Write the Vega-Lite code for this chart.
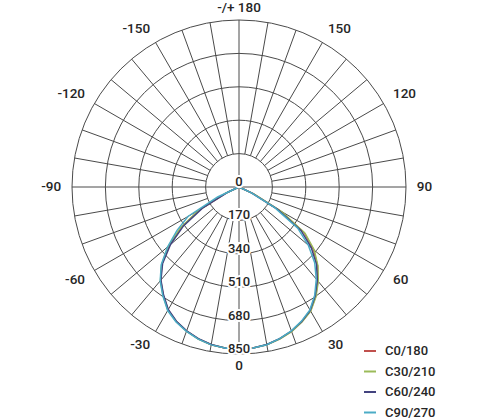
{
  "$schema": "https://vega.github.io/schema/vega-lite/v6.json",
  "width": 334,
  "height": 334,
  "autosize": {"type": "none"},
  "padding": {"left": 72, "top": 20, "right": 74, "bottom": 66},
  "background": "white",
  "config": {
    "view": {"stroke": null},
    "font": "Roboto",
    "text": {"font": "Roboto", "fill": "#262626"}
  },
  "datasets": {
    "rings": [{"r": 170}, {"r": 340}, {"r": 510}, {"r": 680}, {"r": 850}],
    "spokes": [
      {"a": -170, "r0": 170}, {"a": -160, "r0": 170}, {"a": -150, "r0": 170}, {"a": -140, "r0": 170},
      {"a": -130, "r0": 170}, {"a": -120, "r0": 170}, {"a": -110, "r0": 170}, {"a": -100, "r0": 170},
      {"a": -90, "r0": 0}, {"a": -80, "r0": 170}, {"a": -70, "r0": 170}, {"a": -60, "r0": 170},
      {"a": -50, "r0": 170}, {"a": -40, "r0": 170}, {"a": -30, "r0": 170}, {"a": -20, "r0": 170},
      {"a": -10, "r0": 170}, {"a": 0, "r0": 0}, {"a": 10, "r0": 170}, {"a": 20, "r0": 170},
      {"a": 30, "r0": 170}, {"a": 40, "r0": 170}, {"a": 50, "r0": 170}, {"a": 60, "r0": 170},
      {"a": 70, "r0": 170}, {"a": 80, "r0": 170}, {"a": 90, "r0": 0}, {"a": 100, "r0": 170},
      {"a": 110, "r0": 170}, {"a": 120, "r0": 170}, {"a": 130, "r0": 170}, {"a": 140, "r0": 170},
      {"a": 150, "r0": 170}, {"a": 160, "r0": 170}, {"a": 170, "r0": 170}, {"a": 180, "r0": 0}
    ],
    "radial": [{"v": 0}, {"v": 170}, {"v": 340}, {"v": 510}, {"v": 680}, {"v": 850}],
    "angles": [
      {"a": 0, "t": "0"}, {"a": 30, "t": "30"}, {"a": 60, "t": "60"}, {"a": 90, "t": "90"},
      {"a": 120, "t": "120"}, {"a": 150, "t": "150"}, {"a": 180, "t": "-/+ 180"},
      {"a": -30, "t": "-30"}, {"a": -60, "t": "-60"}, {"a": -90, "t": "-90"},
      {"a": -120, "t": "-120"}, {"a": -150, "t": "-150"}
    ],
    "curves": [
      {"s": "C0/180", "g": -90, "i": 0}, {"s": "C0/180", "g": -70, "i": 0}, {"s": "C0/180", "g": -65, "i": 70},
      {"s": "C0/180", "g": -60, "i": 230}, {"s": "C0/180", "g": -55, "i": 360}, {"s": "C0/180", "g": -50, "i": 465},
      {"s": "C0/180", "g": -45, "i": 555}, {"s": "C0/180", "g": -40, "i": 620}, {"s": "C0/180", "g": -35, "i": 672},
      {"s": "C0/180", "g": -30, "i": 722}, {"s": "C0/180", "g": -25, "i": 755}, {"s": "C0/180", "g": -20, "i": 780},
      {"s": "C0/180", "g": -15, "i": 800}, {"s": "C0/180", "g": -10, "i": 815}, {"s": "C0/180", "g": -5, "i": 822},
      {"s": "C0/180", "g": 0, "i": 826}, {"s": "C0/180", "g": 5, "i": 822}, {"s": "C0/180", "g": 10, "i": 815},
      {"s": "C0/180", "g": 15, "i": 800}, {"s": "C0/180", "g": 20, "i": 782}, {"s": "C0/180", "g": 25, "i": 757},
      {"s": "C0/180", "g": 30, "i": 728}, {"s": "C0/180", "g": 35, "i": 680}, {"s": "C0/180", "g": 40, "i": 625},
      {"s": "C0/180", "g": 45, "i": 565}, {"s": "C0/180", "g": 50, "i": 495}, {"s": "C0/180", "g": 55, "i": 405},
      {"s": "C0/180", "g": 60, "i": 240}, {"s": "C0/180", "g": 65, "i": 80}, {"s": "C0/180", "g": 70, "i": 0},
      {"s": "C0/180", "g": 90, "i": 0},

      {"s": "C30/210", "g": -90, "i": 0}, {"s": "C30/210", "g": -70, "i": 0}, {"s": "C30/210", "g": -65, "i": 75},
      {"s": "C30/210", "g": -60, "i": 235}, {"s": "C30/210", "g": -55, "i": 365}, {"s": "C30/210", "g": -50, "i": 468},
      {"s": "C30/210", "g": -45, "i": 556}, {"s": "C30/210", "g": -40, "i": 622}, {"s": "C30/210", "g": -35, "i": 674},
      {"s": "C30/210", "g": -30, "i": 724}, {"s": "C30/210", "g": -25, "i": 756}, {"s": "C30/210", "g": -20, "i": 781},
      {"s": "C30/210", "g": -15, "i": 801}, {"s": "C30/210", "g": -10, "i": 815}, {"s": "C30/210", "g": -5, "i": 822},
      {"s": "C30/210", "g": 0, "i": 826}, {"s": "C30/210", "g": 5, "i": 822}, {"s": "C30/210", "g": 10, "i": 815},
      {"s": "C30/210", "g": 15, "i": 801}, {"s": "C30/210", "g": 20, "i": 783}, {"s": "C30/210", "g": 25, "i": 758},
      {"s": "C30/210", "g": 30, "i": 730}, {"s": "C30/210", "g": 35, "i": 683}, {"s": "C30/210", "g": 40, "i": 628},
      {"s": "C30/210", "g": 45, "i": 568}, {"s": "C30/210", "g": 50, "i": 500}, {"s": "C30/210", "g": 55, "i": 410},
      {"s": "C30/210", "g": 60, "i": 250}, {"s": "C30/210", "g": 65, "i": 85}, {"s": "C30/210", "g": 70, "i": 0},
      {"s": "C30/210", "g": 90, "i": 0},

      {"s": "C60/240", "g": -90, "i": 0}, {"s": "C60/240", "g": -70, "i": 0}, {"s": "C60/240", "g": -65, "i": 60},
      {"s": "C60/240", "g": -60, "i": 215}, {"s": "C60/240", "g": -55, "i": 345}, {"s": "C60/240", "g": -50, "i": 455},
      {"s": "C60/240", "g": -45, "i": 550}, {"s": "C60/240", "g": -40, "i": 618}, {"s": "C60/240", "g": -35, "i": 670},
      {"s": "C60/240", "g": -30, "i": 720}, {"s": "C60/240", "g": -25, "i": 754}, {"s": "C60/240", "g": -20, "i": 779},
      {"s": "C60/240", "g": -15, "i": 799}, {"s": "C60/240", "g": -10, "i": 814}, {"s": "C60/240", "g": -5, "i": 822},
      {"s": "C60/240", "g": 0, "i": 826}, {"s": "C60/240", "g": 5, "i": 822}, {"s": "C60/240", "g": 10, "i": 814},
      {"s": "C60/240", "g": 15, "i": 799}, {"s": "C60/240", "g": 20, "i": 780}, {"s": "C60/240", "g": 25, "i": 755},
      {"s": "C60/240", "g": 30, "i": 725}, {"s": "C60/240", "g": 35, "i": 676}, {"s": "C60/240", "g": 40, "i": 620},
      {"s": "C60/240", "g": 45, "i": 558}, {"s": "C60/240", "g": 50, "i": 480}, {"s": "C60/240", "g": 55, "i": 385},
      {"s": "C60/240", "g": 60, "i": 225}, {"s": "C60/240", "g": 65, "i": 70}, {"s": "C60/240", "g": 70, "i": 0},
      {"s": "C60/240", "g": 90, "i": 0},

      {"s": "C90/270", "g": -90, "i": 0}, {"s": "C90/270", "g": -70, "i": 0}, {"s": "C90/270", "g": -65, "i": 120},
      {"s": "C90/270", "g": -60, "i": 300}, {"s": "C90/270", "g": -55, "i": 385}, {"s": "C90/270", "g": -50, "i": 475},
      {"s": "C90/270", "g": -45, "i": 560}, {"s": "C90/270", "g": -40, "i": 624}, {"s": "C90/270", "g": -35, "i": 676},
      {"s": "C90/270", "g": -30, "i": 726}, {"s": "C90/270", "g": -25, "i": 758}, {"s": "C90/270", "g": -20, "i": 782},
      {"s": "C90/270", "g": -15, "i": 802}, {"s": "C90/270", "g": -10, "i": 816}, {"s": "C90/270", "g": -5, "i": 823},
      {"s": "C90/270", "g": 0, "i": 827}, {"s": "C90/270", "g": 5, "i": 823}, {"s": "C90/270", "g": 10, "i": 815},
      {"s": "C90/270", "g": 15, "i": 799}, {"s": "C90/270", "g": 20, "i": 779}, {"s": "C90/270", "g": 25, "i": 753},
      {"s": "C90/270", "g": 30, "i": 722}, {"s": "C90/270", "g": 35, "i": 672}, {"s": "C90/270", "g": 40, "i": 612},
      {"s": "C90/270", "g": 45, "i": 545}, {"s": "C90/270", "g": 50, "i": 460}, {"s": "C90/270", "g": 55, "i": 365},
      {"s": "C90/270", "g": 60, "i": 210}, {"s": "C90/270", "g": 65, "i": 70}, {"s": "C90/270", "g": 70, "i": 0},
      {"s": "C90/270", "g": 90, "i": 0}
    ]
  },
  "layer": [
    {
      "data": {"name": "rings"},
      "mark": {"type": "point", "shape": "circle", "filled": false, "stroke": "#4a4a4a", "strokeWidth": 1, "opacity": 1},
      "encoding": {
        "x": {"datum": 0, "type": "quantitative", "axis": null, "scale": {"domain": [-850, 850], "nice": false, "zero": false}},
        "y": {"datum": 0, "type": "quantitative", "axis": null, "scale": {"domain": [-850, 850], "nice": false, "zero": false, "reverse": true}},
        "size": {"field": "r", "type": "quantitative", "legend": null, "scale": {"type": "pow", "exponent": 2, "domain": [0, 850], "range": [0, 111556], "zero": true, "nice": false}}
      }
    },
    {
      "data": {"name": "spokes"},
      "transform": [
        {"calculate": "datum.r0 * sin(datum.a * PI / 180)", "as": "x"},
        {"calculate": "datum.r0 * cos(datum.a * PI / 180)", "as": "y"},
        {"calculate": "850 * sin(datum.a * PI / 180)", "as": "x2"},
        {"calculate": "850 * cos(datum.a * PI / 180)", "as": "y2"}
      ],
      "mark": {"type": "rule", "stroke": "#4a4a4a", "strokeWidth": 1},
      "encoding": {
        "x": {"field": "x", "type": "quantitative"},
        "y": {"field": "y", "type": "quantitative"},
        "x2": {"field": "x2"},
        "y2": {"field": "y2"}
      }
    },
    {
      "data": {"name": "curves"},
      "transform": [
        {"calculate": "datum.i * sin(datum.g * PI / 180)", "as": "x"},
        {"calculate": "datum.i * cos(datum.g * PI / 180)", "as": "y"}
      ],
      "mark": {"type": "line", "strokeWidth": 1.5, "interpolate": "linear"},
      "encoding": {
        "x": {"field": "x", "type": "quantitative"},
        "y": {"field": "y", "type": "quantitative"},
        "order": {"field": "g", "type": "quantitative"},
        "color": {
          "field": "s", "type": "nominal",
          "scale": {"domain": ["C0/180", "C30/210", "C60/240", "C90/270"], "range": ["#c0504d", "#9bbb59", "#43437f", "#4bacc6"]},
          "legend": {
            "title": null, "orient": "none", "legendX": 291, "legendY": 324,
            "symbolType": "stroke", "symbolSize": 144, "symbolStrokeWidth": 2,
            "labelFont": "Roboto", "labelFontSize": 13, "labelFontWeight": 500, "labelColor": "#262626",
            "labelOffset": 8, "rowPadding": 6.5, "padding": 0
          }
        }
      }
    },
    {
      "data": {"name": "radial"},
      "mark": {"type": "text", "fontSize": 13, "fontWeight": 500, "baseline": "alphabetic", "align": "center", "dy": -1, "stroke": "white", "strokeWidth": 4, "fill": "white"},
      "encoding": {
        "x": {"datum": 0, "type": "quantitative"},
        "y": {"field": "v", "type": "quantitative"},
        "text": {"field": "v", "type": "quantitative"}
      }
    },
    {
      "data": {"name": "radial"},
      "mark": {"type": "text", "fontSize": 13, "fontWeight": 500, "baseline": "alphabetic", "align": "center", "dy": -1, "fill": "#262626"},
      "encoding": {
        "x": {"datum": 0, "type": "quantitative"},
        "y": {"field": "v", "type": "quantitative"},
        "text": {"field": "v", "type": "quantitative"}
      }
    },
    {
      "data": {"name": "angles"},
      "transform": [
        {"filter": "datum.a == 0 || datum.a == 180"},
        {"calculate": "913 * sin(datum.a * PI / 180)", "as": "x"},
        {"calculate": "913 * cos(datum.a * PI / 180)", "as": "y"}
      ],
      "mark": {"type": "text", "fontSize": 13.5, "fontWeight": 500, "baseline": "middle", "align": "center", "fill": "#262626"},
      "encoding": {
        "x": {"field": "x", "type": "quantitative"},
        "y": {"field": "y", "type": "quantitative"},
        "text": {"field": "t", "type": "nominal"}
      }
    },
    {
      "data": {"name": "angles"},
      "transform": [
        {"filter": "datum.a < 0"},
        {"calculate": "905 * sin(datum.a * PI / 180)", "as": "x"},
        {"calculate": "905 * cos(datum.a * PI / 180) + (abs(datum.a) == 90 ? 0 : (abs(datum.a) < 90 ? 21 : -21))", "as": "y"}
      ],
      "mark": {"type": "text", "fontSize": 13.5, "fontWeight": 500, "baseline": "middle", "align": "right", "fill": "#262626"},
      "encoding": {
        "x": {"field": "x", "type": "quantitative"},
        "y": {"field": "y", "type": "quantitative"},
        "text": {"field": "t", "type": "nominal"}
      }
    },
    {
      "data": {"name": "angles"},
      "transform": [
        {"filter": "datum.a > 0 && datum.a < 180"},
        {"calculate": "905 * sin(datum.a * PI / 180)", "as": "x"},
        {"calculate": "905 * cos(datum.a * PI / 180) + (abs(datum.a) == 90 ? 0 : (abs(datum.a) < 90 ? 21 : -21))", "as": "y"}
      ],
      "mark": {"type": "text", "fontSize": 13.5, "fontWeight": 500, "baseline": "middle", "align": "left", "fill": "#262626"},
      "encoding": {
        "x": {"field": "x", "type": "quantitative"},
        "y": {"field": "y", "type": "quantitative"},
        "text": {"field": "t", "type": "nominal"}
      }
    }
  ]
}
